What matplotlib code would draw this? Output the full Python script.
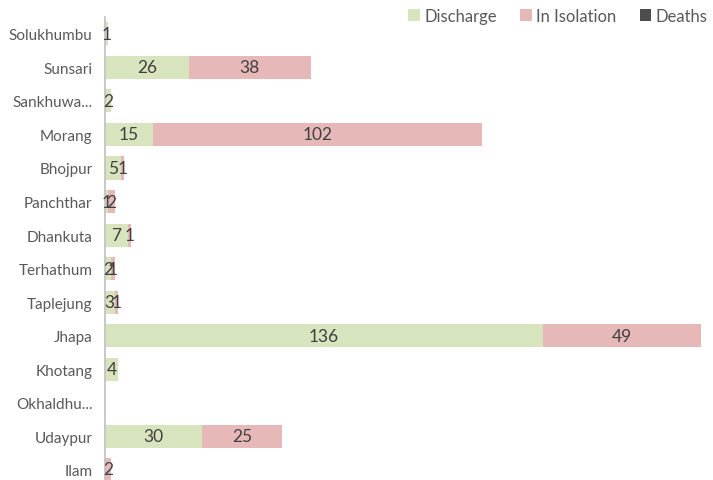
import numpy as np
import matplotlib.pyplot as plt

districts = ['Solukhumbu', 'Sunsari', 'Sankhuwa...', 'Morang', 'Bhojpur', 'Panchthar',
             'Dhankuta', 'Terhathum', 'Taplejung', 'Jhapa', 'Khotang', 'Okhaldhu...',
             'Udaypur', 'Ilam']
discharge = [1, 26, 2, 15, 5, 1, 7, 2, 3, 136, 4, 0, 30, 0]
isolation = [0, 38, 0, 102, 1, 2, 1, 1, 1, 49, 0, 0, 25, 2]
deaths = [0, 0, 0, 0, 0, 0, 0, 0, 0, 0, 0, 0, 0, 0]

plt.rcParams['font.family'] = ['Lato', 'DejaVu Sans']

fig = plt.figure(figsize=(7.13, 4.81), dpi=100)
ax = fig.add_axes([105 / 713, 0, 601 / 713, 463 / 481])

y = np.arange(len(districts))
discharge = np.array(discharge)
isolation = np.array(isolation)
deaths = np.array(deaths)
h = 0.69

b1 = ax.barh(y, discharge, height=h, color='#d7e4bd', label='Discharge')
b2 = ax.barh(y, isolation, height=h, left=discharge, color='#e6b9b8', label='In Isolation')
b3 = ax.barh(y, deaths, height=h, left=discharge + isolation, color='#4d4d4d', label='Deaths')

for bars in (b1, b2):
    labels = [str(v) if v > 0 else '' for v in bars.datavalues]
    ax.bar_label(bars, labels=labels, label_type='center', fontsize=12.5, color='#404040')

ax.set_xlim(0, 186.6)
ax.set_ylim(13.3, -0.5)
ax.set_yticks(y)
ax.set_yticklabels(districts, fontsize=11, color='#595959')
ax.tick_params(axis='y', length=0, pad=9)
ax.set_xticks([])
for s in ['top', 'right', 'bottom']:
    ax.spines[s].set_visible(False)
ax.spines['left'].set_color('#bfbfbf')
ax.spines['left'].set_linewidth(1.2)

ax.legend(loc='center right', bbox_to_anchor=(714 / 713, 1 - 17 / 481),
          bbox_transform=fig.transFigure, ncol=3, frameon=False,
          fontsize=12, labelcolor='#595959', handlelength=0.7, handleheight=0.7,
          handletextpad=0.25, columnspacing=1.4, borderaxespad=0)

fig.savefig('out.png', dpi=100)
